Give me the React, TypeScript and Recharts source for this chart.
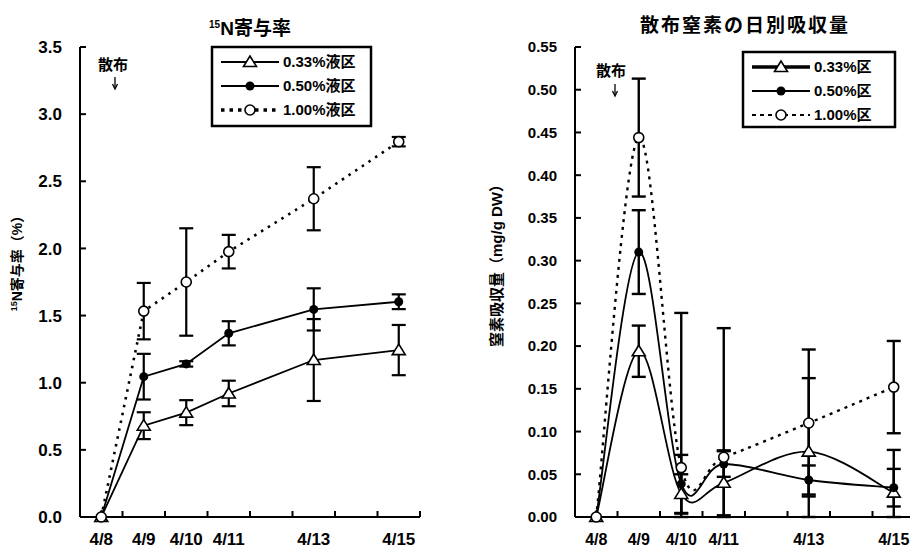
import React from "react";
import { LineChart, Line, XAxis, YAxis, ErrorBar } from "recharts";

// sampling days (April)
const days = [8, 9, 10, 11, 13, 15];
const labelDays = [8, 9, 10, 11, 13, 15];
const dayTicks = [7.5, 8, 8.5, 9, 9.5, 10, 10.5, 11, 11.5, 12, 12.5, 13, 13.5, 14, 14.5, 15, 15.5];

// 15N contribution rate (%)
const rate033 = [0, 0.68, 0.777, 0.92, 1.169, 1.243];
const rate033Sd = [0, 0.1, 0.093, 0.095, 0.305, 0.187];
const rate050 = [0, 1.045, 1.14, 1.368, 1.546, 1.603];
const rate050Sd = [0, 0.17, 0.02, 0.09, 0.157, 0.055];
const rate100 = [0, 1.533, 1.75, 1.976, 2.37, 2.795];
const rate100Sd = [0, 0.21, 0.4, 0.125, 0.235, 0.035];
const rateTicks = [0, 0.5, 1, 1.5, 2, 2.5, 3, 3.5];

// daily uptake of applied nitrogen (mg/g DW)
const up033 = [0, 0.194, 0.027, 0.04, 0.0765, 0.0285];
const up033Sd = [0, 0.03, 0.023, 0.038, 0.086, 0.05];
const up050 = [0, 0.31, 0.0387, 0.062, 0.0433, 0.0343];
const up050Sd = [0, 0.049, 0.034, 0.015, 0.017, 0.022];
const up100 = [0, 0.444, 0.0578, 0.07, 0.11, 0.152];
const up100Sd = [0, 0.069, 0.181, 0.151, 0.086, 0.054];
const upTicks = [0, 0.05, 0.1, 0.15, 0.2, 0.25, 0.3, 0.35, 0.4, 0.45, 0.5, 0.55];

const FONT = '"Liberation Sans", Arial, "Noto Sans CJK JP", sans-serif';

// error bars are cut off at the axis minimum
const err = (v: number, sd: number) => (sd ? [Math.min(sd, v), sd] : 0);

const buildRows = (a: number[], ae: number[], b: number[], be: number[], c: number[], ce: number[]) =>
  days.map((d, i) => ({
    day: d,
    s033: a[i],
    e033: err(a[i], ae[i]),
    s050: b[i],
    e050: err(b[i], be[i]),
    s100: c[i],
    e100: err(c[i], ce[i]),
  }));

const rateRows = buildRows(rate033, rate033Sd, rate050, rate050Sd, rate100, rate100Sd);
const upRows = buildRows(up033, up033Sd, up050, up050Sd, up100, up100Sd);

// Excel-style smoothed line (Catmull-Rom as cubic bezier)
function smoothCurve(context: any) {
  let pts: number[][] = [];
  return {
    areaStart() {},
    areaEnd() {},
    lineStart() {
      pts = [];
    },
    lineEnd() {
      if (!pts.length) return;
      context.moveTo(pts[0][0], pts[0][1]);
      for (let i = 0; i < pts.length - 1; i++) {
        const p0 = pts[Math.max(i - 1, 0)];
        const p1 = pts[i];
        const p2 = pts[i + 1];
        const p3 = pts[Math.min(i + 2, pts.length - 1)];
        context.bezierCurveTo(
          p1[0] + (p2[0] - p0[0]) / 6,
          p1[1] + (p2[1] - p0[1]) / 6,
          p2[0] - (p3[0] - p1[0]) / 6,
          p2[1] - (p3[1] - p1[1]) / 6,
          p2[0],
          p2[1]
        );
      }
    },
    point(x: number, y: number) {
      pts.push([x, y]);
    },
  };
}

const Triangle = ({ cx, cy }: any) => (
  <path
    d={`M${cx},${cy - 6}L${cx - 6.5},${cy + 4.5}L${cx + 6.5},${cy + 4.5}Z`}
    fill="#fff"
    stroke="#000"
    strokeWidth={1.6}
  />
);
const Dot = ({ cx, cy }: any) => <circle cx={cx} cy={cy} r={4.5} fill="#000" />;
const Ring = ({ cx, cy }: any) => (
  <circle cx={cx} cy={cy} r={5} fill="#fff" stroke="#000" strokeWidth={1.6} />
);

const makeDayTick = (fontSize: number) => (props: any) => {
  const { x, y, payload } = props;
  const v = payload.value;
  if (v % 1 !== 0) {
    return <line x1={x} y1={y} x2={x} y2={y - 6} stroke="#000" strokeWidth={2} />;
  }
  if (!labelDays.includes(v)) return <g />;
  return (
    <text x={x} y={y + 28} textAnchor="middle" fontSize={fontSize} fontWeight="bold" fontFamily={FONT} fill="#000">
      {`4/${v}`}
    </text>
  );
};

const makeValueTick = (fontSize: number, digits: number) => (props: any) => {
  const { x, y, payload } = props;
  return (
    <g>
      <line x1={x} y1={y} x2={x + 6} y2={y} stroke="#000" strokeWidth={2} />
      <text x={x - 18} y={y} dy="0.36em" textAnchor="end" fontSize={fontSize} fontWeight="bold" fontFamily={FONT} fill="#000">
        {payload.value.toFixed(digits)}
      </text>
    </g>
  );
};

const LegendBox = ({ x, y, w, h, rows, fontSize }: any) => (
  <g>
    <rect x={x} y={y} width={w} height={h} fill="#fff" stroke="#000" strokeWidth={2.5} />
    {rows.map((r: any, i: number) => {
      const ry = y + 15 + i * 24;
      const lx = x + 9;
      return (
        <g key={i}>
          <line x1={lx} y1={ry} x2={lx + 58} y2={ry} stroke="#000" strokeWidth={r.width} strokeDasharray={r.dash} />
          {r.marker({ cx: lx + 29, cy: ry })}
          <text x={lx + 62} y={ry} dy="0.36em" fontSize={fontSize} fontWeight="bold" fontFamily={FONT} fill="#000">
            {r.label}
          </text>
        </g>
      );
    })}
  </g>
);

// thin downward arrow under the "散布" note
const Arrow = ({ x, y }: any) => (
  <g>
    <line x1={x} y1={y} x2={x} y2={y + 11} stroke="#000" strokeWidth={1.3} />
    <path d={`M${x - 2.5},${y + 7}L${x},${y + 12}L${x + 2.5},${y + 7}`} fill="none" stroke="#000" strokeWidth={1.3} />
  </g>
);

const chartBox = { position: "absolute" as const, top: 0 };

export default function App() {
  return (
    <div
      style={{
        position: "absolute",
        left: 0,
        top: 0,
        width: 910,
        height: 548,
        overflow: "hidden",
        background: "#fff",
        fontFamily: FONT,
      }}
    >
      {/* left: contribution rate */}
      <div style={{ ...chartBox, left: 0 }}>
        <LineChart width={455} height={548} data={rateRows} margin={{ top: 47, right: 35, bottom: 0, left: 0 }}>
          <XAxis
            dataKey="day"
            type="number"
            domain={[7.5, 15.5]}
            ticks={dayTicks}
            interval={0}
            height={31}
            tickSize={0}
            tickMargin={0}
            tickLine={false}
            axisLine={{ stroke: "#000", strokeWidth: 2 }}
            tick={makeDayTick(17)}
          />
          <YAxis
            type="number"
            domain={[0, 3.5]}
            ticks={rateTicks}
            interval={0}
            width={80}
            tickSize={0}
            tickMargin={0}
            tickLine={false}
            axisLine={{ stroke: "#000", strokeWidth: 2 }}
            tick={makeValueTick(17, 1)}
          />
          <Line dataKey="s033" type="linear" stroke="#000" strokeWidth={1.8} dot={(p: any) => <Triangle key={p.index} {...p} />} isAnimationActive={false}>
            <ErrorBar dataKey="e033" direction="y" width={7} stroke="#000" strokeWidth={2.2} />
          </Line>
          <Line dataKey="s050" type="linear" stroke="#000" strokeWidth={1.8} dot={(p: any) => <Dot key={p.index} {...p} />} isAnimationActive={false}>
            <ErrorBar dataKey="e050" direction="y" width={7} stroke="#000" strokeWidth={2.2} />
          </Line>
          <Line dataKey="s100" type="linear" stroke="#000" strokeWidth={2.6} strokeDasharray="2.5 5.5" dot={(p: any) => <Ring key={p.index} {...p} />} isAnimationActive={false}>
            <ErrorBar dataKey="e100" direction="y" width={7} stroke="#000" strokeWidth={2.2} />
          </Line>
        </LineChart>
      </div>

      {/* right: daily uptake */}
      <div style={{ ...chartBox, left: 455 }}>
        <LineChart width={470} height={548} data={upRows} margin={{ top: 47, right: 10, bottom: 0, left: 0 }}>
          <XAxis
            dataKey="day"
            type="number"
            domain={[7.5, 15.5]}
            ticks={dayTicks}
            interval={0}
            height={31}
            tickSize={0}
            tickMargin={0}
            tickLine={false}
            axisLine={{ stroke: "#000", strokeWidth: 2 }}
            tick={makeDayTick(16)}
          />
          <YAxis
            type="number"
            domain={[0, 0.55]}
            ticks={upTicks}
            interval={0}
            width={120}
            tickSize={0}
            tickMargin={0}
            tickLine={false}
            axisLine={{ stroke: "#000", strokeWidth: 2 }}
            tick={makeValueTick(15, 2)}
          />
          <Line dataKey="s033" type={smoothCurve as any} stroke="#000" strokeWidth={1.8} dot={(p: any) => <Triangle key={p.index} {...p} />} isAnimationActive={false}>
            <ErrorBar dataKey="e033" direction="y" width={7} stroke="#000" strokeWidth={2.4} />
          </Line>
          <Line dataKey="s050" type={smoothCurve as any} stroke="#000" strokeWidth={1.8} dot={(p: any) => <Dot key={p.index} {...p} />} isAnimationActive={false}>
            <ErrorBar dataKey="e050" direction="y" width={7} stroke="#000" strokeWidth={2.4} />
          </Line>
          <Line dataKey="s100" type={smoothCurve as any} stroke="#000" strokeWidth={2.4} strokeDasharray="3 5" dot={(p: any) => <Ring key={p.index} {...p} />} isAnimationActive={false}>
            <ErrorBar dataKey="e100" direction="y" width={7} stroke="#000" strokeWidth={2.4} />
          </Line>
        </LineChart>
      </div>

      {/* titles, axis names, annotations and legends */}
      <svg width={910} height={548} style={{ position: "absolute", left: 0, top: 0, pointerEvents: "none" }}>
        <text x={250} y={35} textAnchor="middle" fontFamily={FONT} fontWeight="bold" fill="#000">
          <tspan fontSize={10} dy={-7}>15</tspan>
          <tspan fontSize={19} dy={7}>N寄与率</tspan>
        </text>
        <text x={745} y={32} textAnchor="middle" fontFamily={FONT} fontWeight="bold" fontSize={19} letterSpacing={2} fill="#000">
          散布窒素の日別吸収量
        </text>

        <text transform="translate(22,260) rotate(-90)" textAnchor="middle" fontFamily={FONT} fontWeight="bold" fill="#000">
          <tspan fontSize={9} dy={-5}>15</tspan>
          <tspan fontSize={14} dy={5}>N寄与率（%）</tspan>
        </text>
        <text transform="translate(502,262) rotate(-90)" textAnchor="middle" fontFamily={FONT} fontWeight="bold" fontSize={15} fill="#000">
          窒素吸収量（mg/g DW）
        </text>

        <text x={113} y={70} textAnchor="middle" fontFamily={FONT} fontWeight="bold" fontSize={15} fill="#000">散布</text>
        <Arrow x={115} y={77} />
        <text x={611} y={76} textAnchor="middle" fontFamily={FONT} fontWeight="bold" fontSize={15} fill="#000">散布</text>
        <Arrow x={615} y={84} />

        <LegendBox
          x={212}
          y={47}
          w={159}
          h={79}
          fontSize={15}
          rows={[
            { label: "0.33%液区", width: 1.8, dash: undefined, marker: Triangle },
            { label: "0.50%液区", width: 1.8, dash: undefined, marker: Dot },
            { label: "1.00%液区", width: 3.5, dash: "3.5 5", marker: Ring },
          ]}
        />
        <LegendBox
          x={743}
          y={52}
          w={152}
          h={75}
          fontSize={15}
          rows={[
            { label: "0.33%区", width: 3.5, dash: undefined, marker: Triangle },
            { label: "0.50%区", width: 1.8, dash: undefined, marker: Dot },
            { label: "1.00%区", width: 1.8, dash: "4 4", marker: Ring },
          ]}
        />
      </svg>
    </div>
  );
}
